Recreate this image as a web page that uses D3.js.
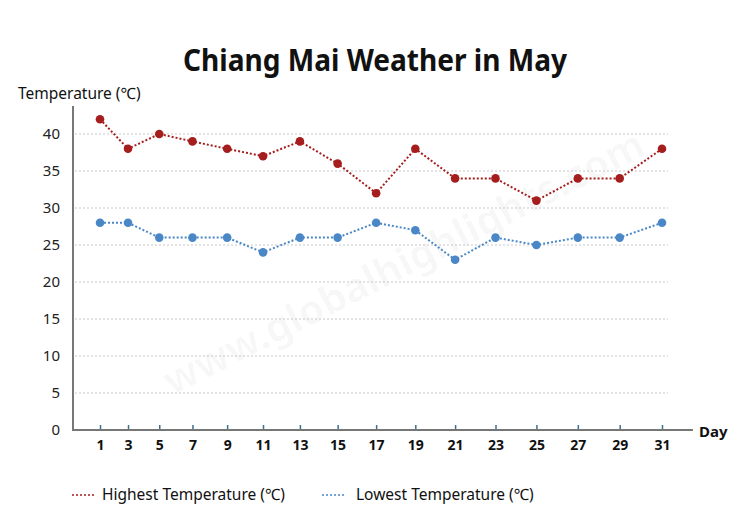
<!DOCTYPE html>
<html>
<head>
<meta charset="utf-8">
<script src="https://cdn.jsdelivr.net/npm/d3@7.9.0/dist/d3.min.js"></script>
<style>
  body { margin: 0; background: #fff; }
  text { font-family: "Noto Sans", "Open Sans", sans-serif; }
</style>
</head>
<body>
<svg width="750" height="530"></svg>
<script>
const days = [1, 3, 5, 7, 9, 11, 13, 15, 17, 19, 21, 23, 25, 27, 29, 31];
const highTemps = [42, 38, 40, 39, 38, 37, 39, 36, 32, 38, 34, 34, 31, 34, 34, 38];
const lowTemps = [28, 28, 26, 26, 26, 24, 26, 26, 28, 27, 23, 26, 25, 26, 26, 28];
const yTicks = [0, 5, 10, 15, 20, 25, 30, 35, 40];
const seriesNames = ['Highest Temperature (℃)', 'Lowest Temperature (℃)'];
const colors = ['#a51d1d', '#4a87c6'];

const svg = d3.select('svg');

// the reference spaces days slightly wider toward the right
let x = d3.scalePow().exponent(1.15).domain([1, 31]).range([100, 662]);
let y = d3.scaleLinear().domain([0, 40]).range([430, 134]);

// title
svg.append('text')
  .attr('x', 375).attr('y', 71)
  .attr('text-anchor', 'middle')
  .attr('font-size', 30).attr('font-weight', 'bold')
  .attr('textLength', 384).attr('lengthAdjust', 'spacingAndGlyphs')
  .attr('fill', '#111')
  .text('Chiang Mai Weather in May');

// watermark
svg.append('text')
  .attr('transform', 'translate(410,275) rotate(-27)')
  .attr('text-anchor', 'middle')
  .attr('font-size', 40).attr('font-weight', 'bold')
  .attr('fill', '#000').attr('fill-opacity', 0.03)
  .text('www.globalhighlights.com');

// gridlines
svg.append('g').selectAll('line')
  .data(yTicks.filter(d => d > 0))
  .join('line')
  .attr('x1', 75).attr('x2', 668)
  .attr('y1', d => y(d)).attr('y2', d => y(d))
  .attr('stroke', '#c8c8c8').attr('stroke-width', 1.2)
  .attr('stroke-dasharray', '2,2');

// y axis
let yAxis = svg.append('g')
  .attr('transform', 'translate(73,0)')
  .call(d3.axisLeft(y).tickValues(yTicks).tickSize(0).tickPadding(13));
yAxis.select('.domain').remove();
yAxis.selectAll('text').attr('font-size', 15).attr('fill', '#222')
  .style('font-family', '"Noto Sans", sans-serif');
svg.append('line')
  .attr('x1', 73).attr('x2', 73).attr('y1', 106).attr('y2', 431)
  .attr('stroke', '#777').attr('stroke-width', 2);

// x axis
let xAxis = svg.append('g')
  .attr('transform', 'translate(0,430)')
  .call(d3.axisBottom(x).tickValues(days).tickFormat(d3.format('d')).tickSize(0).tickPadding(10));
xAxis.select('.domain').remove();
xAxis.selectAll('text').attr('font-size', 14).attr('font-weight', 'bold').attr('fill', '#111')
  .style('font-family', '"Noto Sans", sans-serif');
xAxis.selectAll('.tick').append('line')
  .attr('y1', 0).attr('y2', -5)
  .attr('stroke', '#3d6f8e').attr('stroke-width', 1.5);
svg.append('line')
  .attr('x1', 72).attr('x2', 693).attr('y1', 430).attr('y2', 430)
  .attr('stroke', '#777').attr('stroke-width', 2);

// axis titles
svg.append('text')
  .attr('x', 18).attr('y', 99)
  .attr('font-size', 15.5).attr('fill', '#111')
  .text('Temperature (℃)');
svg.append('text')
  .attr('x', 699).attr('y', 437)
  .attr('font-size', 15).attr('font-weight', 'bold').attr('fill', '#111')
  .text('Day');

// series
[highTemps, lowTemps].forEach((values, i) => {
  let pts = days.map((d, j) => [d, values[j]]);
  let line = d3.line().x(p => x(p[0])).y(p => y(p[1]));
  svg.append('path')
    .attr('d', line(pts))
    .attr('fill', 'none')
    .attr('stroke', colors[i]).attr('stroke-width', 2)
    .attr('stroke-dasharray', '2,2');
  svg.append('g').selectAll('circle')
    .data(pts)
    .join('circle')
    .attr('cx', p => x(p[0])).attr('cy', p => y(p[1]))
    .attr('r', 4.3)
    .attr('fill', colors[i]);
});

// legend
let legendX = [72, 322];
seriesNames.forEach((name, i) => {
  svg.append('line')
    .attr('x1', legendX[i]).attr('x2', legendX[i] + 24)
    .attr('y1', 495).attr('y2', 495)
    .attr('stroke', colors[i]).attr('stroke-width', 1.5)
    .attr('stroke-dasharray', '2,2');
  svg.append('text')
    .attr('x', legendX[i] + (i === 0 ? 30 : 34)).attr('y', 500)
    .attr('font-size', 15.5).attr('fill', '#111')
    .text(name);
});
</script>
</body>
</html>
